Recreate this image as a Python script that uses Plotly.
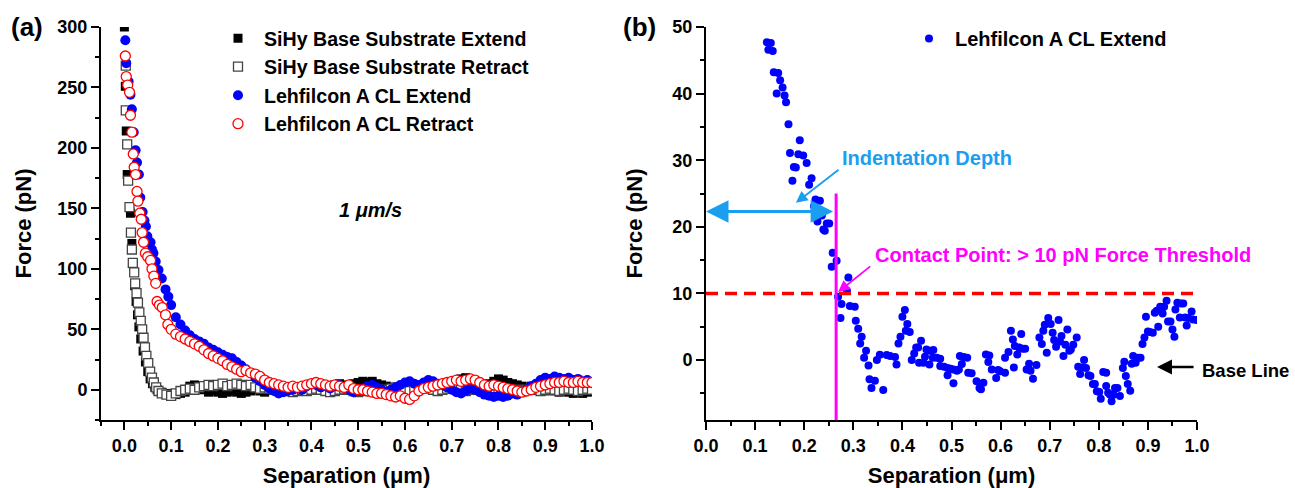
import plotly.graph_objects as go

# ---------------- data: panel (a) ----------------
GRID = [0.10, 0.11, 0.12, 0.13, 0.14, 0.15, 0.16, 0.17, 0.18, 0.19,
        0.20, 0.21, 0.22, 0.23, 0.24, 0.25, 0.26, 0.27, 0.28, 0.29,
        0.30, 0.31, 0.32, 0.33, 0.34, 0.35, 0.36, 0.37, 0.38, 0.39,
        0.40, 0.41, 0.42, 0.43, 0.44, 0.45, 0.46, 0.47, 0.48, 0.49,
        0.50, 0.51, 0.52, 0.53, 0.54, 0.55, 0.56, 0.57, 0.58, 0.59,
        0.60, 0.61, 0.62, 0.63, 0.64, 0.65, 0.66, 0.67, 0.68, 0.69,
        0.70, 0.71, 0.72, 0.73, 0.74, 0.75, 0.76, 0.77, 0.78, 0.79,
        0.80, 0.81, 0.82, 0.83, 0.84, 0.85, 0.86, 0.87, 0.88, 0.89,
        0.90, 0.91, 0.92, 0.93, 0.94, 0.95, 0.96, 0.97, 0.98, 0.99,
        1.00]

sihy_ext_x0 = [0.000, 0.002, 0.004, 0.006, 0.013, 0.016, 0.019, 0.022, 0.025, 0.028,
               0.031, 0.035, 0.040, 0.045, 0.050, 0.055, 0.060, 0.065, 0.070, 0.080, 0.090]
sihy_ext_y0 = [300, 251, 214, 178, 146, 121, 104, 86, 73, 62,
               52, 42, 32, 23, 15, 9, 5, 2, 0, -2, -3]
sihy_ext_grid = [-4, -4, -3, -2, 3, 4, 3, 0, -2, -1,
                 -2, -3, -2, -1, -2, -3, -2, -1, 0, -1,
                 -2, 1, 2, 1, 0, 2, 1, 0, -1, 1,
                 2, 3, 4, 3, 2, 4, 5, 4, 3, 5,
                 6, 7, 6, 7, 5, 4, 3, 2, 1, 2,
                 3, 4, 3, 2, 4, 5, 4, 3, 5, 4,
                 6, 7, 9, 10, 8, 6, 5, 4, 5, 7,
                 9, 8, 6, 5, 4, 3, 2, 3, 1, 0,
                 -1, 0, -1, -2, -1, -2, -3, -2, -3, -2,
                 -1]

sihy_ret_x0 = [0.003, 0.003, 0.006, 0.008, 0.011, 0.014, 0.016, 0.018, 0.021, 0.023,
               0.026, 0.029, 0.032, 0.035, 0.038, 0.041, 0.044, 0.047, 0.051, 0.055,
               0.059, 0.063, 0.068, 0.073, 0.080, 0.090]
sihy_ret_y0 = [268, 231, 203, 173, 151, 130, 116, 105, 97, 88,
               80, 72, 64, 57, 50, 43, 35, 28, 22, 15,
               10, 6, 2, -1, -3, -4]
sihy_ret_grid = [-5, -3, -1, 0, 1, 0, 2, 3, 4, 3,
                 4, 5, 3, 4, 5, 4, 3, 4, 2, 1,
                 2, 1, 0, -1, 0, -1, -2, -1, 0, -1,
                 0, 1, 0, -1, -2, -1, 0, 1, 0, -1,
                 -2, -1, 0, 1, 0, -1, 0, 1, 2, 1,
                 0, -1, 0, 1, 2, 1, 0, -1, 0, 1,
                 2, 1, 0, -1, 0, 1, 0, -1, 0, 1,
                 0, -1, -2, -1, 0, -1, 0, 1, 0, -1,
                 0, 1, 0, -1, 0, 1, 0, -1, 0, 1,
                 0]

lehf_ext_x0 = [0.002, 0.004, 0.009, 0.013, 0.016, 0.020, 0.024, 0.027, 0.031, 0.034,
               0.039, 0.043, 0.046, 0.049, 0.052, 0.056, 0.059, 0.062, 0.067, 0.073,
               0.080, 0.088, 0.094]
lehf_ext_y0 = [289, 270, 255, 244, 232, 213, 198, 188, 178, 159,
               147, 140, 135, 127, 122, 122, 116, 113, 106, 99,
               92, 83, 77]
lehf_ext_grid = [70, 60, 54, 49, 45, 42, 40, 38, 35, 33,
                 31, 29, 27, 26, 23, 20, 17, 14, 10, 7,
                 4, 1, -1, -3, -2, -1, 0, 1, 0, 3,
                 5, 4, 2, 3, 1, 3, 4, 2, 0, -2,
                 -1, 1, 3, 4, 2, 0, -2, 0, 2, 4,
                 6, 7, 5, 4, 6, 8, 7, 5, 4, 2,
                 0, -2, -3, -1, 1, 0, -2, -4, -5, -6,
                 -5, -6, -5, -3, -4, -2, 0, 3, 5, 8,
                 10, 9, 11, 10, 9, 10, 8, 9, 7, 8,
                 6]

lehf_ret_x0 = [0.002, 0.004, 0.007, 0.011, 0.013, 0.016, 0.019, 0.021, 0.024, 0.027,
               0.029, 0.033, 0.036, 0.038, 0.041, 0.045, 0.050, 0.056, 0.059, 0.063,
               0.067, 0.070, 0.075, 0.081, 0.088, 0.093]
lehf_ret_y0 = [276, 259, 252, 246, 227, 213, 195, 184, 178, 164,
               156, 146, 141, 130, 122, 113, 110, 107, 100, 94,
               88, 73, 70, 68, 62, 54]
lehf_ret_grid = [50, 46, 44, 42, 40, 38, 36, 33, 30, 28,
                 26, 24, 21, 19, 17, 15, 16, 14, 13, 11,
                 8, 6, 5, 4, 3, 2, 3, 2, 3, 4,
                 5, 6, 5, 4, 3, 4, 3, 2, 4, 1,
                 0, 0, -1, -2, -3, -3, -4, -5, -6, -5,
                 -7, -8, -5, -1, 1, 2, 3, 4, 5, 6,
                 7, 8, 7, 8, 9, 8, 6, 4, 3, 4,
                 3, 2, 1, 0, -1, -2, -1, 0, 2, 3,
                 4, 5, 6, 6, 7, 6, 6, 7, 6, 6,
                 6]

SERIES_A = ["SiHy Base Substrate Extend", "SiHy Base Substrate Retract",
            "Lehfilcon A CL Extend", "Lehfilcon A CL Retract"]

# ---------------- data: panel (b) ----------------
b_x = [0.124, 0.132, 0.127, 0.136, 0.138, 0.147, 0.144, 0.151, 0.156, 0.160,
       0.163, 0.168, 0.171, 0.176, 0.179, 0.183, 0.188, 0.191, 0.198, 0.205,
       0.215, 0.210, 0.223, 0.232, 0.220, 0.236, 0.227, 0.246, 0.251, 0.239,
       0.242, 0.258, 0.256, 0.266, 0.290, 0.287, 0.269, 0.276, 0.293, 0.303,
       0.274, 0.305, 0.310, 0.317, 0.314, 0.326, 0.322, 0.331, 0.333, 0.344,
       0.337, 0.361, 0.348, 0.354, 0.368, 0.375, 0.385, 0.388, 0.392, 0.396,
       0.400, 0.405, 0.410, 0.407, 0.415, 0.419, 0.424, 0.428, 0.432, 0.438,
       0.434, 0.443, 0.446, 0.449, 0.456, 0.463, 0.455, 0.462, 0.470, 0.477,
       0.477, 0.485, 0.492, 0.492, 0.498, 0.504, 0.511, 0.504, 0.515, 0.521,
       0.517, 0.525, 0.532, 0.534, 0.541, 0.551, 0.557, 0.560, 0.565, 0.570,
       0.577, 0.575, 0.582, 0.591, 0.595,
       0.599, 0.609, 0.609, 0.616, 0.621, 0.625, 0.629, 0.634, 0.627, 0.638,
       0.642, 0.645, 0.650, 0.653, 0.658, 0.661, 0.666, 0.673, 0.679, 0.684,
       0.687, 0.690, 0.697, 0.694, 0.702, 0.706, 0.709, 0.713, 0.718, 0.721,
       0.724, 0.728, 0.732, 0.736, 0.740, 0.743, 0.748, 0.755, 0.758, 0.762,
       0.766, 0.770, 0.774, 0.779, 0.783, 0.788, 0.792, 0.796, 0.801, 0.804,
       0.809, 0.815, 0.815, 0.819, 0.823, 0.826, 0.830, 0.833, 0.838, 0.843,
       0.849, 0.852, 0.855, 0.859, 0.864, 0.867, 0.870, 0.875, 0.880, 0.885,
       0.889, 0.893, 0.896, 0.900, 0.904, 0.910, 0.914, 0.918, 0.921, 0.925,
       0.930, 0.933, 0.938, 0.941, 0.946, 0.950, 0.954, 0.956, 0.960, 0.965,
       0.967, 0.972, 0.976, 0.979, 0.982, 0.989, 0.992, 0.999]
b_y = [47.7, 47.6, 46.6, 46.4, 43.2, 43.1, 40.0, 42.0, 40.9, 39.7,
       38.7, 35.4, 31.1, 26.9, 29.0, 28.9, 30.9, 33.0, 30.7, 29.6,
       27.3, 26.3, 24.1, 23.9, 23.1, 21.7, 20.8, 20.5, 20.5, 19.6,
       19.4, 16.1, 14.0, 14.9, 12.4, 10.4, 9.5, 8.4, 8.1, 8.0,
       6.3, 5.9, 4.7, 3.5, 2.5, 1.4, 0.35, -0.8, -2.9, -3.1,
       -4.2, -4.5, 0.0, 0.8, 0.75, 0.6, 0.45, -0.65, 2.5, 3.5,
       6.5, 7.5, 5.4, 4.4, 4.2, 0.0, 1.0, 1.9, 1.9, 2.9,
       -0.4, -0.4, 0.5, 1.6, 1.4, 1.5, -0.65, 0.35, 0.35, 0.2,
       -0.9, -1.0, -1.2, -2.3, -1.3, -1.4, -1.6, -3.5, -1.4, -0.6,
       0.6, 0.45, 0.35, -1.9, -2.0, -3.2, -4.2, -4.4, -3.4, 0.85,
       0.7, -0.3, -1.4, -2.7, -1.5,
       -1.7, -1.9, 0.35, 1.2, 4.4, 3.1, 2.1, 0.85, -1.1, 1.9,
       3.9, 1.7, 1.7, -1.4, -0.55, -1.6, -2.8, -0.75, 3.4, 2.4,
       4.4, 5.3, 6.3, 1.1, 5.4, 4.1, 3.0, 2.0, 6.0, 2.8,
       3.6, 0.6, 2.3, 4.6, 1.4, 1.6, 2.3, 3.4, -1.0, -2.1,
       -1.1, 0.0, -1.2, -2.3, -2.4, -3.6, -3.6, -4.7, -4.8, -5.8,
       -1.8, -1.9, -3.9, -4.9, -5.2, -6.2, -5.2, -4.2, -4.2, -5.4,
       -1.2, -0.25, -2.4, -3.6, -4.6, -0.55, 0.6, -0.4, 0.35, 0.35,
       2.4, 3.4, 6.5, 4.3, 4.2, 4.1, 7.1, 7.4, 5.0, 8.0,
       7.0, 8.0, 8.9, 5.8, 5.8, 4.6, 3.5, 7.6, 8.6, 6.4,
       8.5, 8.5, 6.4, 5.2, 6.3, 7.3, 6.1, 6.0]

THRESHOLD = 10
CONTACT_X = 0.265
INDENT_Y = 22.3

# ---------------- style ----------------
W, H = 1295, 488
FONT = "Liberation Sans, Arial, sans-serif"
CYAN = "#1a9ff0"
MAGENTA = "#ff00ff"


def px_x(p):
    return p / W


def px_y(p):
    return 1 - p / H


fig = go.Figure()

fig.add_trace(go.Scatter(x=sihy_ext_x0 + GRID, y=sihy_ext_y0 + sihy_ext_grid, mode="markers",
                         name=SERIES_A[0], xaxis="x", yaxis="y",
                         marker=dict(symbol="square", size=9, color="black",
                                     line=dict(width=0))))
fig.add_trace(go.Scatter(x=sihy_ret_x0 + GRID, y=sihy_ret_y0 + sihy_ret_grid, mode="markers",
                         name=SERIES_A[1], xaxis="x", yaxis="y",
                         marker=dict(symbol="square", size=9, color="white",
                                     line=dict(width=1.3, color="#444444"))))
fig.add_trace(go.Scatter(x=lehf_ext_x0 + GRID, y=lehf_ext_y0 + lehf_ext_grid, mode="markers",
                         name=SERIES_A[2], xaxis="x", yaxis="y",
                         marker=dict(symbol="circle", size=10, color="#0000ff",
                                     line=dict(width=0))))
fig.add_trace(go.Scatter(x=lehf_ret_x0 + GRID, y=lehf_ret_y0 + lehf_ret_grid, mode="markers",
                         name=SERIES_A[3], xaxis="x", yaxis="y",
                         marker=dict(symbol="circle", size=10, color="white",
                                     line=dict(width=1.3, color="#ff0000"))))
fig.add_trace(go.Scatter(x=b_x, y=b_y, mode="markers", name="Lehfilcon A CL Extend",
                         xaxis="x2", yaxis="y2", legend="legend2",
                         marker=dict(symbol="circle", size=8, color="#0000ff",
                                     line=dict(width=0))))

tickfont = dict(family=FONT, size=18, color="black", weight="bold")
titlefont = dict(family=FONT, size=22, color="black", weight="bold")


def axis_style(**kw):
    d = dict(showline=True, linecolor="black", linewidth=2, ticks="outside",
             ticklen=8, tickwidth=1.5, tickcolor="black", showgrid=False,
             zeroline=False, mirror=False, tickfont=tickfont, fixedrange=True,
             automargin=False)
    d.update(kw)
    return d


ydom = [px_y(420), px_y(27)]
fig.update_layout(
    template="none",
    width=W, height=H,
    margin=dict(l=0, r=0, t=0, b=0, pad=0, autoexpand=False),
    paper_bgcolor="white", plot_bgcolor="white",
    xaxis=axis_style(domain=[px_x(101), px_x(592)], anchor="y", range=[-0.05, 1.0],
                     tick0=0, dtick=0.1, tickformat=".1f",
                     minor=dict(ticks="outside", ticklen=4, tickwidth=1.5, tickcolor="black", dtick=0.05, tick0=0),
                     title=dict(text="Separation (μm)", font=titlefont, standoff=14)),
    yaxis=axis_style(domain=ydom, anchor="x", range=[-25, 300], tick0=0, dtick=50,
                     minor=dict(ticks="outside", ticklen=4, tickwidth=1.5, tickcolor="black", dtick=25, tick0=0),
                     title=dict(text="Force (pN)", font=titlefont, standoff=20)),
    xaxis2=axis_style(domain=[px_x(706), px_x(1197)], anchor="y2", range=[0, 1.0],
                      tick0=0, dtick=0.1, tickformat=".1f",
                      minor=dict(ticks="outside", ticklen=4, tickwidth=1.5, tickcolor="black", dtick=0.05, tick0=0),
                      title=dict(text="Separation (μm)", font=titlefont, standoff=14)),
    yaxis2=axis_style(domain=ydom, anchor="x2", range=[-9, 50], tick0=0, dtick=10,
                      minor=dict(ticks="outside", ticklen=4, tickwidth=1.5, tickcolor="black", dtick=5, tick0=0),
                      title=dict(text="Force (pN)", font=titlefont, standoff=24)),
    legend=dict(x=px_x(212), y=px_y(19), xanchor="left", yanchor="top",
                bgcolor="rgba(0,0,0,0)", borderwidth=0, tracegroupgap=0, itemwidth=42,
                font=dict(family=FONT, size=19.6, color="black", weight="bold")),
    legend2=dict(x=px_x(903), y=px_y(19), xanchor="left", yanchor="top",
                 bgcolor="rgba(0,0,0,0)", borderwidth=0, itemwidth=42,
                 font=dict(family=FONT, size=20, color="black", weight="bold")),
    showlegend=True,
)

annotations = [
    dict(text="<b>(a)</b>", x=px_x(27), y=px_y(27), xref="paper", yref="paper",
         showarrow=False, xanchor="center", yanchor="middle",
         font=dict(family=FONT, size=26, color="black")),
    dict(text="<b>(b)</b>", x=px_x(639), y=px_y(27), xref="paper", yref="paper",
         showarrow=False, xanchor="center", yanchor="middle",
         font=dict(family=FONT, size=26, color="black")),
    dict(text="<b><i>1 μm/s</i></b>", x=px_x(370), y=px_y(210), xref="paper", yref="paper",
         showarrow=False, xanchor="center", yanchor="middle",
         font=dict(family=FONT, size=20, color="black")),
    # indentation depth double arrow
    dict(text="", x=0.0, y=INDENT_Y, ax=0.262, ay=INDENT_Y, xref="x2", yref="y2",
         axref="x2", ayref="y2", showarrow=True, arrowhead=2, startarrowhead=2,
         arrowside="end+start", arrowwidth=3, arrowsize=1.5, startarrowsize=1.5,
         arrowcolor=CYAN),
    dict(text="", x=0.183, y=23.6, ax=0.273, ay=28.75, xref="x2", yref="y2",
         axref="x2", ayref="y2", showarrow=True, arrowhead=2, arrowwidth=1.8,
         arrowsize=1.3, arrowcolor=CYAN),
    dict(text="<b>Indentation Depth</b>", x=0.273, y=30.3, xref="x2", yref="y2",
         showarrow=False, xanchor="left", yanchor="middle",
         font=dict(family=FONT, size=20, color=CYAN)),
    # contact point
    dict(text="", x=0.269, y=10.2, ax=0.3375, ay=14.25, xref="x2", yref="y2",
         axref="x2", ayref="y2", showarrow=True, arrowhead=2, arrowwidth=1.8,
         arrowsize=1.3, arrowcolor=MAGENTA),
    dict(text="<b>Contact Point: &gt; 10 pN Force Threshold</b>", x=0.340, y=15.75,
         xref="x2", yref="y2", showarrow=False, xanchor="left", yanchor="middle",
         font=dict(family=FONT, size=20, color=MAGENTA)),
    # base line
    dict(text="", x=0.9185, y=-1.05, ax=0.996, ay=-1.05, xref="x2", yref="y2",
         axref="x2", ayref="y2", showarrow=True, arrowhead=2, arrowwidth=2.5,
         arrowsize=1.2, arrowcolor="black"),
    dict(text="<b>Base Line</b>", x=px_x(1200), y=px_y(370), xref="paper", yref="paper",
         showarrow=False, xanchor="left", yanchor="middle",
         font=dict(family=FONT, size=18.5, color="black")),
]
fig.update_layout(annotations=annotations)

fig.add_shape(type="line", xref="x2", yref="y2", x0=0, x1=0.992, y0=THRESHOLD, y1=THRESHOLD,
              line=dict(color="#ff0000", width=3.5, dash="12px,7px"))
fig.add_shape(type="line", xref="x2", yref="y2", x0=CONTACT_X, x1=CONTACT_X, y0=-9, y1=25,
              line=dict(color=MAGENTA, width=3))

fig.write_html("out.html")
